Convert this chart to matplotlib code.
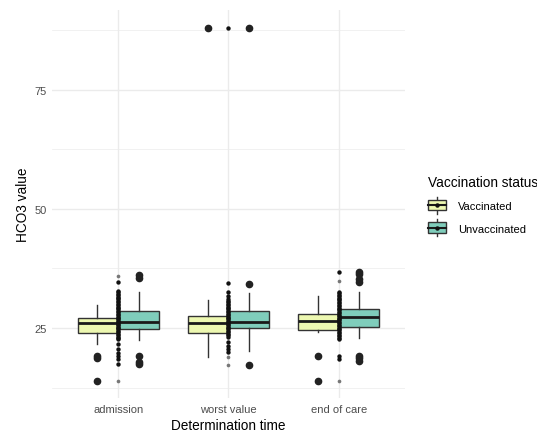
import numpy as np
import matplotlib
matplotlib.use("Agg")
import matplotlib.pyplot as plt
from matplotlib.legend_handler import HandlerBase
from matplotlib.patches import Rectangle
from matplotlib.lines import Line2D

plt.rcParams['font.family'] = ['Liberation Sans', 'DejaVu Sans']

times = ["admission", "worst value", "end of care"]
groups = ["Vaccinated", "Unvaccinated"]
fills = ["#EDF8B1", "#7FCDBB"]

# box stats: [low whisker, q1, median, q3, high whisker]
vacc_stats = [[21.6, 23.9, 26.0, 27.1, 29.8],
              [18.9, 23.9, 26.0, 27.5, 30.9],
              [24.2, 24.6, 26.5, 27.9, 31.7]]
unvacc_stats = [[22.5, 24.8, 26.3, 28.6, 32.6],
                [20.2, 25.0, 26.3, 28.6, 32.4],
                [22.9, 25.2, 27.3, 29.0, 32.6]]
vacc_out = [[18.7, 19.1, 13.9],
            [88.0],
            [19.1, 13.9]]
unvacc_out = [[36.1, 35.5, 19.1, 17.4, 17.8],
              [34.2, 88.0, 17.2],
              [36.8, 36.4, 35.2, 34.7, 19.1, 18.6, 18.1]]

# the column of single points drawn at each category centre
mid_black = [[34.7, 32.8, 32.5, 32.2, 31.9, 31.6, 31.3, 31.0, 30.7, 30.4, 30.1, 29.8,
              29.5, 29.2, 28.9, 28.6, 28.3, 28.0, 27.7, 27.4, 27.1, 26.8, 26.5, 26.2,
              25.9, 25.6, 25.3, 25.0, 24.7, 24.4, 24.1, 23.8, 23.5, 23.2, 22.9, 22.7,
              21.6, 20.6, 19.7, 19.1, 18.5, 17.4],
             [88.0, 34.5, 32.6, 31.7, 31.1, 30.7, 30.4, 30.1, 29.8, 29.5, 29.2, 28.9,
              28.6, 28.3, 28.0, 27.7, 27.4, 27.1, 26.8, 26.5, 26.2, 25.9, 25.6, 25.3,
              25.0, 24.7, 24.4, 24.1, 23.8, 23.5, 23.1, 22.1, 21.2, 20.6, 20.0],
             [36.8, 32.6, 32.3, 32.0, 31.7, 31.4, 31.1, 30.8, 30.5, 30.2, 29.9, 29.6,
              29.3, 29.0, 28.7, 28.4, 28.1, 27.8, 27.5, 27.2, 26.9, 26.6, 26.3, 26.0,
              25.7, 25.4, 25.1, 24.8, 24.5, 24.2, 23.9, 23.6, 23.3, 23.0, 22.7, 19.1, 18.5]]
mid_gray = [[35.9, 13.9],
            [18.9, 17.2],
            [34.9, 13.9]]

fig = plt.figure(figsize=(5.37, 4.35), dpi=100)
ax = fig.add_axes([0.0968, 0.0828, 0.657, 0.892])

grid_c = "#EBEBEB"
for y in [12.5, 37.5, 62.5, 87.5]:
    ax.axhline(y, color=grid_c, lw=0.5, zorder=0)
for y in [25, 50, 75]:
    ax.axhline(y, color=grid_c, lw=1.0, zorder=0)
for x in range(1, 4):
    ax.axvline(x, color=grid_c, lw=1.0, zorder=0)

dodge = 0.1875
width = 0.36
edge = "#333333"
for g, (stats, outs, fc, off) in enumerate([(vacc_stats, vacc_out, fills[0], -dodge),
                                            (unvacc_stats, unvacc_out, fills[1], dodge)]):
    bxp = []
    for s, o in zip(stats, outs):
        bxp.append(dict(whislo=s[0], q1=s[1], med=s[2], q3=s[3], whishi=s[4], fliers=o))
    pos = np.arange(1, 4) + off
    ax.bxp(bxp, positions=pos, widths=width, patch_artist=True, showcaps=False,
           boxprops=dict(facecolor=fc, edgecolor=edge, lw=1.0),
           whiskerprops=dict(color=edge, lw=1.0),
           medianprops=dict(color="#1A1A1A", lw=2.0),
           flierprops=dict(marker="o", markerfacecolor="#222222", markeredgecolor="#222222",
                           markersize=4.5), zorder=2)

for i in range(3):
    ax.scatter(np.full(len(mid_black[i]), i + 1), mid_black[i], s=10, color="#111111",
               lw=0, zorder=4)
    ax.scatter(np.full(len(mid_gray[i]), i + 1), mid_gray[i], s=7, color="#777777",
               lw=0, zorder=4)

ax.set_xlim(0.4, 3.6)
ax.set_ylim(10.3, 91.8)
ax.set_xticks(range(1, 4))
ax.set_xticklabels(times)
ax.set_yticks([25, 50, 75])
for s in ax.spines.values():
    s.set_visible(False)
ax.tick_params(length=0, labelsize=8, colors="#4D4D4D", pad=4)
ax.set_xlabel("Determination time", fontsize=9.8, labelpad=3)
ax.set_ylabel("HCO3 value", fontsize=9.8, labelpad=3)


class BoxKey(HandlerBase):
    # ggplot-like boxplot key: whisker, box, median and a point
    def create_artists(self, legend, orig, xd, yd, w, h, fontsize, trans):
        fc = orig.get_facecolor()
        cx = xd + w / 2
        cy = yd + h / 2 - 1.5
        bh = 7.5
        arts = [Line2D([cx, cx], [cy - 6.2, cy + 6.2], color=edge, lw=1.0),
                Rectangle((xd, cy - bh / 2), w, bh, facecolor=fc, edgecolor=edge, lw=1.0),
                Line2D([xd, xd + w], [cy, cy], color="#1A1A1A", lw=1.5),
                Line2D([cx], [cy], marker="o", markersize=2.2, color="#111111", lw=0)]
        for a in arts:
            a.set_transform(trans)
        return arts


handles = [Rectangle((0, 0), 1, 1, facecolor=c) for c in fills]
leg = fig.legend(handles, groups, handler_map={Rectangle: BoxKey()},
                 loc="upper left", bbox_to_anchor=(0.778, 0.619), frameon=False,
                 title="Vaccination status", title_fontsize=9.8, fontsize=8,
                 handlelength=1.6, handleheight=1.0, labelspacing=1.05, handletextpad=1.1)
leg._legend_box.align = "left"

fig.savefig("out.png", dpi=100)
